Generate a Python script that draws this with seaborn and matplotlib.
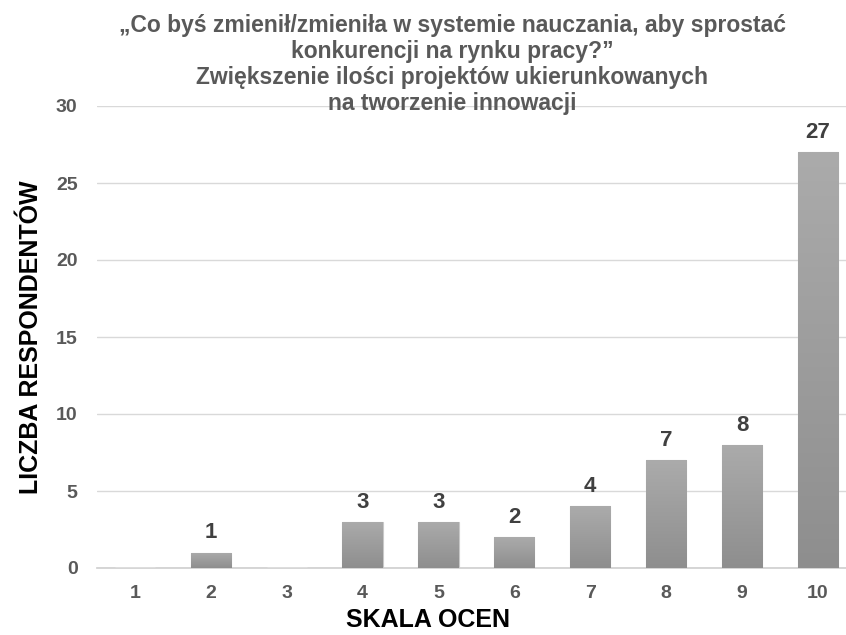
import numpy as np
import pandas as pd
import matplotlib
matplotlib.use('Agg')
import matplotlib.pyplot as plt
import seaborn as sns

# values
ratings = ['1', '2', '3', '4', '5', '6', '7', '8', '9', '10']
respondents = [0, 1, 0, 3, 3, 2, 4, 7, 8, 27]
y_ticks = [0, 5, 10, 15, 20, 25, 30]

title = ('„Co byś zmienił/zmieniła w systemie nauczania, aby sprostać\n'
         'konkurencji na rynku pracy?”\n'
         'Zwiększenie ilości projektów ukierunkowanych\n'
         'na tworzenie innowacji')

sns.set_theme(style='white')
plt.rcParams['font.family'] = ['Liberation Sans', 'DejaVu Sans']

df = pd.DataFrame({'ocena': ratings, 'liczba': respondents})

fig = plt.figure(figsize=(8.46, 6.35), dpi=100)
ax = fig.add_axes([97 / 846, 67 / 635, 1 - 97 / 846, (568 - 106) / 635])

sns.barplot(data=df, x='ocena', y='liczba', color='#9c9c9c', width=0.53,
            saturation=1, ax=ax, zorder=3)

# vertical gradient on each bar, like the original
grad = np.linspace(0, 1, 256).reshape(-1, 1)
cmap = matplotlib.colors.LinearSegmentedColormap.from_list('g', ['#8e8e8e', '#ababab'])
for p in ax.patches:
    h = p.get_height()
    if h <= 0:
        continue
    x0 = p.get_x()
    w = p.get_width()
    im = ax.imshow(grad, extent=[x0, x0 + w, 0, h], origin='lower', aspect='auto',
                   cmap=cmap, zorder=4)
    im.set_clip_path(p)
    p.set_edgecolor('#c8c8c8')
    p.set_linewidth(0.8)

for i, v in enumerate(respondents):
    if v > 0:
        ax.text(i, v + 0.6, str(v), ha='center', va='bottom', fontsize=16,
                fontweight='bold', color='#404040', zorder=5)

ax.set_xlim(-0.5, 9.37)
ax.set_ylim(0, 30)
ax.set_yticks(y_ticks)
ax.yaxis.grid(True, color='#d9d9d9', linewidth=1, zorder=0)
ax.set_axisbelow(True)
for s in ['top', 'right', 'left']:
    ax.spines[s].set_visible(False)
ax.spines['bottom'].set_color('#d0d0d0')
ax.tick_params(axis='both', length=0, labelsize=14, labelcolor='#595959')
ax.tick_params(axis='x', pad=12)
ax.tick_params(axis='y', pad=14)
for lab in ax.get_xticklabels() + ax.get_yticklabels():
    lab.set_fontweight('bold')

ax.set_xlabel('SKALA OCEN', fontsize=18, fontweight='bold', color='black')
ax.xaxis.set_label_coords(0.442, -0.086)
ax.set_ylabel('LICZBA RESPONDENTÓW', fontsize=18, fontweight='bold', color='black', labelpad=9)

fig.text(452 / 846, 1 - 14 / 635, title, ha='center', va='top', fontsize=16.5,
         fontweight='bold', color='#595959', linespacing=1.17)

fig.savefig('out.png', dpi=100)
